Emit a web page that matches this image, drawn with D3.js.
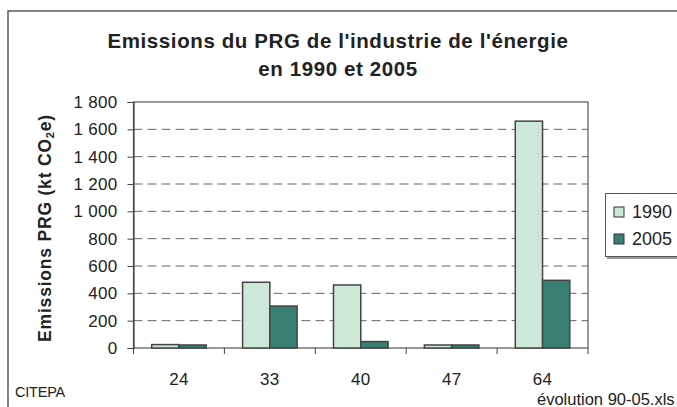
<!DOCTYPE html>
<html><head><meta charset="utf-8">
<script src="https://cdn.jsdelivr.net/npm/d3@7"></script>
<style>body{margin:0;background:#fff}svg{display:block;font-family:"Liberation Sans",Arial,sans-serif}</style>
</head><body><svg id="c" width="677" height="407"></svg>
<script>
const categories = ["24","33","40","47","64"];
const series = ["1990","2005"];
const values1990 = [25, 481, 461, 22, 1660];
const values2005 = [22, 307, 47, 22, 495];
const yTicks = [0,200,400,600,800,1000,1200,1400,1600,1800];
const colors = ["#cde8d6","#3a7f73"];

const svg = d3.select("#c");
const m = {l:133.5, r:588, t:102, b:348};
// outer frame
svg.append("rect").attr("x",8).attr("y",11).attr("width",700).attr("height",420)
  .attr("fill","#fff").attr("stroke","#5a5a5a").attr("stroke-width",1.5);

const x = d3.scaleBand().domain(categories).range([m.l,m.r]).paddingInner(0.4).paddingOuter(0.2);
const xc = d3.scaleBand().domain(categories).range([m.l,m.r]);
const xs = d3.scaleBand().domain(series).range([0,x.bandwidth()]);
const y = d3.scaleLinear().domain([0,1800]).range([m.b,m.t]);

// gridlines
svg.append("g").selectAll("line").data(yTicks.filter(d=>d>0&&d<1800)).join("line")
  .attr("x1",m.l).attr("x2",m.r).attr("y1",d=>y(d)).attr("y2",d=>y(d))
  .attr("stroke","#666").attr("stroke-width",1).attr("stroke-dasharray","9,5");

// plot frame
svg.append("rect").attr("x",m.l).attr("y",m.t).attr("width",m.r-m.l).attr("height",m.b-m.t)
  .attr("fill","none").attr("stroke","#555").attr("stroke-width",1.2);

// bars
const data = categories.map((c,i)=>({c, v:[values1990[i],values2005[i]]}));
const g = svg.append("g").selectAll("g").data(data).join("g")
  .attr("transform",d=>`translate(${xc(d.c)+xc.bandwidth()/2-x.bandwidth()/2},0)`);
g.selectAll("rect").data(d=>d.v.map((v,j)=>({s:series[j],v,j}))).join("rect")
  .attr("x",d=>xs(d.s)).attr("width",xs.bandwidth())
  .attr("y",d=>y(d.v)).attr("height",d=>y(0)-y(d.v))
  .attr("fill",d=>colors[d.j]).attr("stroke","#444").attr("stroke-width",1.5);

// y axis
const ya = svg.append("g").attr("transform",`translate(${m.l},0)`)
  .call(d3.axisLeft(y).tickValues(yTicks).tickSize(6).tickPadding(10)
    .tickFormat(d=>d3.format(",")(d).replace(/,/g," ")));
ya.select(".domain").attr("stroke","#444").attr("stroke-width",1.2);
ya.selectAll(".tick line").attr("stroke","#444");
ya.selectAll("text").attr("font-size",17).attr("letter-spacing",0.3).attr("fill","#222").attr("font-family","Liberation Sans, Arial, sans-serif");

// x axis
const xa = svg.append("g").attr("transform",`translate(0,${m.b})`)
  .call(d3.axisBottom(xc).tickSize(0).tickPadding(25));
xa.select(".domain").remove();
xa.selectAll("text").attr("font-size",17).attr("letter-spacing",0.3).attr("fill","#222").attr("font-family","Liberation Sans, Arial, sans-serif");
svg.append("g").selectAll("line").data(categories.concat(["end"])).join("line")
  .attr("x1",(d,i)=>m.l+i*xc.bandwidth()).attr("x2",(d,i)=>m.l+i*xc.bandwidth())
  .attr("y1",m.b).attr("y2",m.b+6).attr("stroke","#444");

// title
const t = svg.append("text").attr("text-anchor","middle").attr("font-weight","bold")
  .attr("font-size",20.5).attr("fill","#222").attr("letter-spacing",0.6);
t.append("tspan").attr("x",338).attr("y",48).text("Emissions du PRG de l'industrie de l'énergie");
t.append("tspan").attr("x",338).attr("y",76).text("en 1990 et 2005");

// y title
const yt = svg.append("text").attr("transform","translate(51,228) rotate(-90)")
  .attr("text-anchor","middle").attr("font-weight","bold").attr("font-size",17.5).attr("letter-spacing",0.8).attr("fill","#222");
yt.append("tspan").text("Emissions PRG (kt CO");
yt.append("tspan").attr("font-size",11).attr("dy",3).text("2");
yt.append("tspan").attr("dy",-3).text("e)");

// legend
svg.append("rect").attr("x",607).attr("y",195).attr("width",100).attr("height",64).attr("fill","#999");
svg.append("rect").attr("x",605.5).attr("y",193.5).attr("width",100).attr("height",63)
  .attr("fill","#fff").attr("stroke","#555").attr("stroke-width",1);
const lg = svg.append("g").selectAll("g").data(series).join("g")
  .attr("transform",(d,i)=>`translate(614,${207+i*27})`);
lg.append("rect").attr("width",10).attr("height",10).attr("fill",(d,i)=>colors[i]).attr("stroke","#333");
lg.append("text").attr("x",18).attr("y",11).attr("font-size",18).attr("fill","#222").text(d=>d);

// footers
svg.append("text").attr("x",15).attr("y",397).attr("font-size",14.5).attr("letter-spacing",-0.2).attr("fill","#222").text("CITEPA");
svg.append("text").attr("x",537).attr("y",405).attr("font-size",16.5).attr("fill","#222").text("évolution 90-05.xls");
</script></body></html>
